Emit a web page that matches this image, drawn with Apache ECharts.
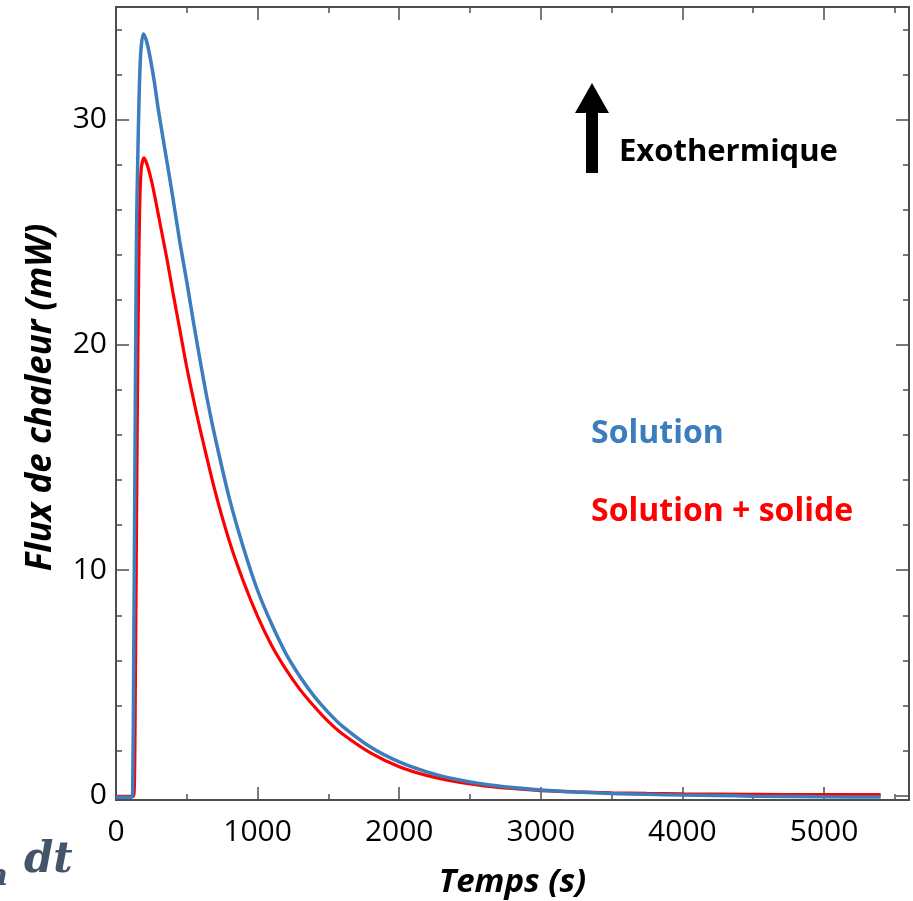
<!DOCTYPE html>
<html>
<head>
<meta charset="utf-8">
<script src="https://cdn.jsdelivr.net/npm/echarts@6/dist/echarts.min.js"></script>
<style>
  html, body { margin: 0; padding: 0; background: #fff; }
  #chart { width: 913px; height: 901px; }
</style>
</head>
<body>
<div id="chart"></div>
<script>
// temps (s) / flux (mW)
var tempsSolution = [0, 110, 118, 125, 132, 140, 146, 153, 163, 175, 193, 215, 240, 270, 300, 350, 400, 450, 500, 550, 600, 650, 700, 800, 900, 1000, 1100, 1200, 1300, 1400, 1500, 1600, 1800, 2000, 2200, 2400, 2600, 2800, 3000, 3250, 3500, 3750, 4000, 4250, 4500, 5000, 5400]
var fluxSolution = [-0.08, -0.08, 0.3, 6, 13, 21, 25.5, 28, 31, 33, 33.8, 33.5, 32.8, 31.7, 30.4, 28.5, 26.6, 24.6, 22.8, 20.9, 19.1, 17.4, 15.9, 13.2, 11.0, 9.1, 7.6, 6.3, 5.27, 4.4, 3.68, 3.07, 2.14, 1.49, 1.04, 0.72, 0.5, 0.35, 0.24, 0.15, 0.09, 0.05, 0.02, 0.0, -0.03, -0.06, -0.07]

var tempsSolide = [0, 120, 130, 137, 145, 152, 160, 167, 178, 198, 220, 250, 280, 320, 360, 400, 450, 500, 550, 600, 700, 800, 900, 1000, 1100, 1200, 1300, 1400, 1500, 1600, 1800, 2000, 2200, 2400, 2600, 2800, 3000, 3250, 3500, 3750, 4000, 4500, 5000, 5400]
var fluxSolide = [-0.04, -0.04, 0.5, 5, 12, 18, 23, 26, 27.8, 28.3, 28.0, 27.3, 26.4, 25.1, 23.8, 22.4, 20.7, 19.0, 17.5, 16.1, 13.5, 11.3, 9.5, 7.95, 6.65, 5.6, 4.7, 3.95, 3.28, 2.73, 1.88, 1.28, 0.88, 0.61, 0.43, 0.31, 0.22, 0.16, 0.12, 0.09, 0.07, 0.05, 0.04, 0.04]

var xMajor = [0, 1000, 2000, 3000, 4000, 5000]
var xMinor = [500, 1500, 2500, 3500, 4500, 5500]
var yMajor = [0, 10, 20, 30]
var yMinor = [2, 4, 6, 8, 12, 14, 16, 18, 22, 24, 26, 28, 32, 34]

var axisColor = '#4d4d4d'
var blue = '#3b7dbd'
var red = '#ff0000'

function pairs(xs, ys) {
  return xs.map(function (x, i) { return [x, ys[i]] })
}

function xAx(pos, ticks, len, withLabel) {
  return {
    type: 'value', position: pos, min: 0, max: 5600,
    axisLine: { show: true, onZero: false, lineStyle: { color: axisColor, width: 2 } },
    axisTick: { show: true, inside: true, length: len, customValues: ticks, lineStyle: { color: axisColor, width: 1.5 } },
    axisLabel: withLabel ? {
      customValues: ticks, margin: 17, fontSize: 30, color: '#000', fontFamily: 'Open Sans',
      formatter: function (v) { return String(v) }
    } : { show: false },
    splitLine: { show: false },
    name: withLabel ? 'Temps (s)' : '',
    nameLocation: 'middle', nameGap: 66,
    nameTextStyle: { fontSize: 33, fontWeight: 'bold', fontStyle: 'italic', color: '#000', fontFamily: 'Open Sans' }
  }
}

function yAx(pos, ticks, len, withLabel) {
  return {
    type: 'value', position: pos, min: -0.2, max: 35,
    axisLine: { show: true, onZero: false, lineStyle: { color: axisColor, width: 2 } },
    axisTick: { show: true, inside: true, length: len, customValues: ticks, lineStyle: { color: axisColor, width: 1.5 } },
    axisLabel: withLabel ? {
      customValues: ticks, margin: 9, fontSize: 30, color: '#000', fontFamily: 'Open Sans'
    } : { show: false },
    splitLine: { show: false },
    name: withLabel ? 'Flux de chaleur (mW)' : '',
    nameLocation: 'middle', nameGap: 57,
    nameTextStyle: { fontSize: 35, fontWeight: 'bold', fontStyle: 'italic', color: '#000', fontFamily: 'Open Sans', padding: [0, 0, 0, 12] }
  }
}

var chart = echarts.init(document.getElementById('chart'), null, { renderer: 'canvas' })

var option = {
  backgroundColor: '#fff',
  animation: false,
  grid: { left: 116, right: 4, top: 7, bottom: 101, outerBoundsMode: 'none' },
  xAxis: [
    xAx('bottom', xMajor, 13, true),
    xAx('bottom', xMinor, 6, false),
    xAx('top', xMajor, 13, false),
    xAx('top', xMinor, 6, false)
  ],
  yAxis: [
    yAx('left', yMajor, 13, true),
    yAx('left', yMinor, 6, false),
    yAx('right', yMajor, 13, false),
    yAx('right', yMinor, 6, false)
  ],
  series: [
    {
      name: 'Solution + solide', type: 'line', xAxisIndex: 0, yAxisIndex: 0,
      showSymbol: false, smooth: 0.3,
      lineStyle: { color: red, width: 3.2 },
      data: pairs(tempsSolide, fluxSolide)
    },
    {
      name: 'Solution', type: 'line', xAxisIndex: 0, yAxisIndex: 0,
      showSymbol: false, smooth: 0.3,
      lineStyle: { color: blue, width: 3.5 },
      data: pairs(tempsSolution, fluxSolution)
    }
  ],
  graphic: [
    // fleche exothermique
    {
      type: 'polygon',
      shape: { points: [[592, 83], [609, 113], [598, 113], [598, 173], [586, 173], [586, 113], [575, 113]] },
      style: { fill: '#000' }
    },
    {
      type: 'text', left: 619, top: 137,
      style: { text: 'Exothermique', fontSize: 31, fontWeight: 'bold', fill: '#000', fontFamily: 'Open Sans' }
    },
    {
      type: 'text', left: 591, top: 418,
      style: { text: 'Solution', fontSize: 32, fontWeight: 'bold', fill: blue, fontFamily: 'Open Sans' }
    },
    {
      type: 'text', left: 591, top: 496,
      style: { text: 'Solution + solide', fontSize: 32, fontWeight: 'bold', fill: red, fontFamily: 'Open Sans' }
    },
    // bout de formule coupé en bas à gauche
    {
      type: 'text', left: -14, top: 862,
      style: { text: 'n', fontSize: 30, fontWeight: 'bold', fontStyle: 'italic', fill: '#44546a', fontFamily: 'DejaVu Serif' }
    },
    {
      type: 'text', left: 24, top: 840,
      style: { text: 'dt', fontSize: 42, fontWeight: 'bold', fontStyle: 'italic', fill: '#44546a', fontFamily: 'DejaVu Serif' }
    }
  ]
}

chart.setOption(option)
</script>
</body>
</html>
